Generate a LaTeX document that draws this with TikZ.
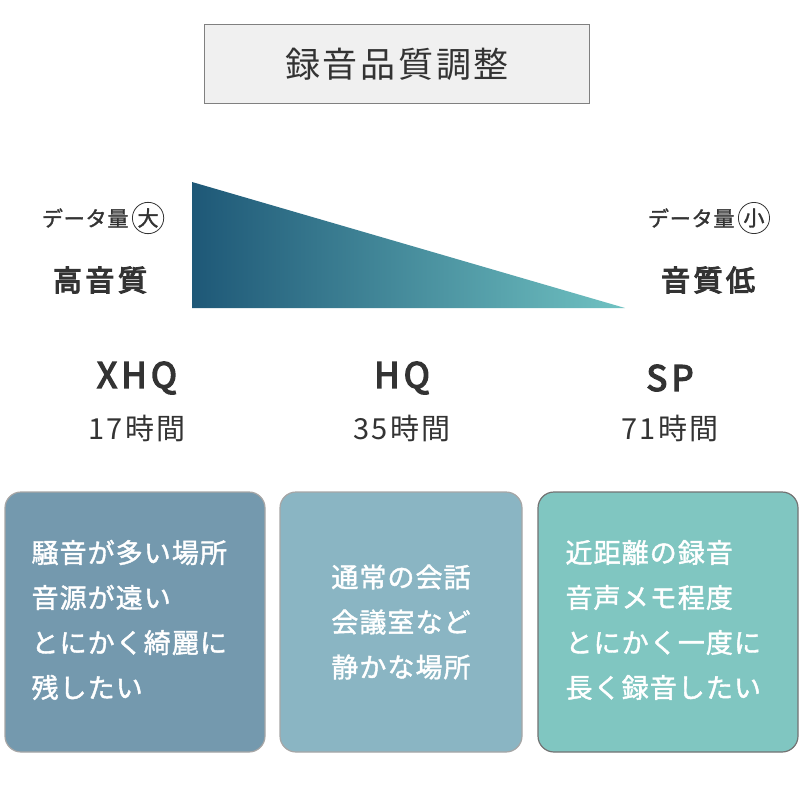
\documentclass[tikz,border=0pt]{standalone}
\usepackage{fontspec}
\setmainfont{Noto Sans CJK JP}
\newfontfamily\jpb{Noto Sans CJK JP}[FakeBold=4,LetterSpace=12]
\newfontfamily\jps{Noto Sans CJK JP}[LetterSpace=8]
\newfontfamily\jpw{Noto Sans CJK JP}[FakeBold=1.5,LetterSpace=4]
\usetikzlibrary{shadings}
\definecolor{tdark}{HTML}{1E5877}
\definecolor{tlight}{HTML}{70C2C2}
\definecolor{boxa}{HTML}{7499AE}
\definecolor{boxb}{HTML}{8AB5C3}
\definecolor{boxc}{HTML}{80C6C1}
\definecolor{txt}{HTML}{333333}
\tikzset{
 card/.style={draw=gray!70,line width=1.2pt,rounded corners=16pt},
 cardtext/.style={text=white,font=\jpw\fontsize{27}{45}\selectfont,align=left},
 lab/.style={text=txt,font=\jpb\fontsize{29}{30}\selectfont},
 sub/.style={text=txt,font=\jpw\fontsize{21}{22}\selectfont},
 code/.style={text=txt,font=\jpb\fontsize{35}{36}\selectfont},
 hrs/.style={text=txt,font=\jps\fontsize{29}{30}\selectfont},
}
\begin{document}
\begin{tikzpicture}[x=1pt,y=-1pt]
\useasboundingbox (0,0) rectangle (800,800);
\fill[white] (0,0) rectangle (800,800);
\node[draw=gray,fill=gray!12,line width=1pt,minimum width=385pt,minimum height=78pt,text=txt,font=\jps\fontsize{35}{36}\selectfont] (title) at (397,64) {録音品質調整};
\shade[left color=tdark,right color=tlight] (192,182) -- (192,308) -- (625,308) -- cycle;
\node[sub,anchor=east] (dl) at (132,218) {データ量};
\node[draw=txt,circle,line width=0.8pt,inner sep=1pt,sub,anchor=west] (dlc) at (dl.east) {大};
\node[lab] (hq1) at (100,280) {高音質};
\node[sub,anchor=east] (dr) at (738,218) {データ量};
\node[draw=txt,circle,line width=0.8pt,inner sep=1pt,sub,anchor=west] (drc) at (dr.east) {小};
\node[lab] (lq) at (708,280) {音質低};
\node[code] (c1) at (137,378) {XHQ};
\node[hrs] (h1) at (137,428) {17時間};
\node[code] (c2) at (402,378) {HQ};
\node[hrs] (h2) at (402,428) {35時間};
\node[code] (c3) at (670,378) {SP};
\node[hrs] (h3) at (670,428) {71時間};
\filldraw[card,fill=boxa] (5,492) rectangle (265,752);
\filldraw[card,fill=boxb] (280,492) rectangle (522,752);
\filldraw[card,fill=boxc,draw=gray!90!black] (538,492) rectangle (798,752);
\node[cardtext,anchor=west] (t1) at (28,620) {騒音が多い場所\\音源が遠い\\とにかく綺麗に\\残したい};
\node[cardtext,align=left] (t2) at (401,622) {通常の会話\\会議室など\\静かな場所};
\node[cardtext,anchor=west] (t3) at (562,620) {近距離の録音\\音声メモ程度\\とにかく一度に\\長く録音したい};
\end{tikzpicture}
\end{document}
